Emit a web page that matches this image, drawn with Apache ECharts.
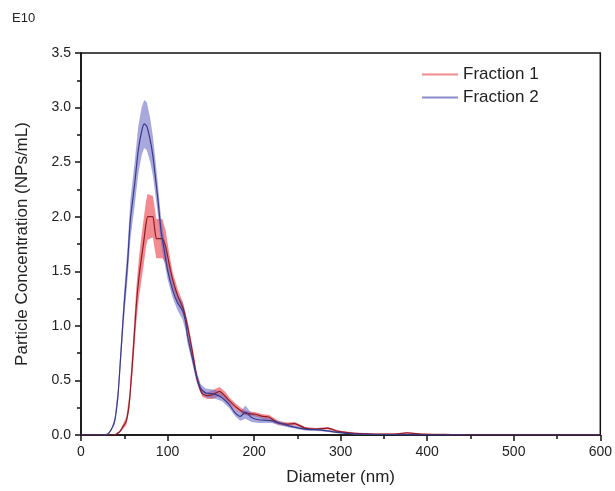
<!DOCTYPE html>
<html>
<head>
<meta charset="utf-8">
<script src="https://cdn.jsdelivr.net/npm/echarts@6/dist/echarts.min.js"></script>
<style>
  html, body { margin: 0; padding: 0; background: #fff; }
  #chart { width: 615px; height: 491px; }
</style>
</head>
<body>
<div id="chart"></div>
<script>
// Fraction 1 (red): diameter (nm), mean, half-width of band
const f1D = [0, 38, 44.7, 48, 52.4, 56, 60, 63.8, 67, 69.5, 72.6, 75, 77, 80, 83, 85, 87, 90, 94, 98, 102, 106, 112, 118, 123, 129, 134, 140, 146, 152, 160, 166, 172, 180, 190, 201, 210, 217, 228, 238, 247, 259, 272, 285, 297, 316, 340, 360, 377, 395, 420, 450, 600];
const f1Mean = [0, 0, 0.03, 0.07, 0.13, 0.31, 0.73, 1.18, 1.45, 1.6, 1.78, 1.93, 2.0, 2.0, 2.0, 1.9, 1.8, 1.8, 1.8, 1.72, 1.56, 1.42, 1.27, 1.16, 1.0, 0.75, 0.52, 0.38, 0.36, 0.37, 0.40, 0.36, 0.31, 0.25, 0.2, 0.19, 0.17, 0.165, 0.11, 0.10, 0.105, 0.063, 0.055, 0.063, 0.033, 0.015, 0.008, 0.008, 0.02, 0.008, 0.005, 0, 0];
const f1Err = [0, 0, 0.01, 0.02, 0.04, 0.07, 0.12, 0.16, 0.18, 0.2, 0.21, 0.21, 0.21, 0.2, 0.19, 0.19, 0.18, 0.18, 0.18, 0.15, 0.1, 0.07, 0.06, 0.05, 0.05, 0.05, 0.04, 0.03, 0.03, 0.04, 0.04, 0.04, 0.03, 0.03, 0.02, 0.02, 0.02, 0.02, 0.02, 0.015, 0.015, 0.01, 0.01, 0.01, 0.01, 0.008, 0.005, 0.005, 0.006, 0.004, 0.003, 0, 0];

// Fraction 2 (blue)
const f2D = [0, 25, 31, 35, 39, 42.8, 45.9, 49.7, 54, 57, 62, 66, 70, 73, 76, 80, 83, 86, 88.7, 92.5, 96.3, 100, 105.8, 111.6, 117.3, 121, 123, 128.8, 133, 138, 144, 150, 156, 163, 171, 178.5, 184, 190, 197, 205, 220, 240, 259, 278, 297, 316, 335, 400, 450, 600];
const f2Mean = [0, 0, 0.01, 0.05, 0.13, 0.37, 0.73, 1.18, 1.6, 1.97, 2.3, 2.6, 2.78, 2.85, 2.83, 2.7, 2.56, 2.36, 2.17, 1.87, 1.69, 1.51, 1.33, 1.21, 1.14, 1.03, 0.91, 0.70, 0.55, 0.43, 0.385, 0.38, 0.37, 0.34, 0.28, 0.2, 0.17, 0.21, 0.16, 0.14, 0.13, 0.084, 0.054, 0.045, 0.024, 0.01, 0.005, 0.002, 0, 0];
const f2Err = [0, 0, 0.005, 0.01, 0.03, 0.06, 0.09, 0.12, 0.15, 0.18, 0.2, 0.22, 0.22, 0.22, 0.22, 0.2, 0.18, 0.16, 0.14, 0.12, 0.1, 0.08, 0.07, 0.07, 0.08, 0.08, 0.07, 0.05, 0.05, 0.04, 0.04, 0.04, 0.04, 0.03, 0.03, 0.03, 0.04, 0.06, 0.04, 0.03, 0.02, 0.015, 0.012, 0.01, 0.008, 0.005, 0.004, 0.002, 0, 0];

const names = ['Fraction 1', 'Fraction 2'];

function pairs(d, m) {
  return d.map((x, i) => [x, m[i]]);
}

// shaded band (mean ± err) as one polygon, placed through the axes
function bandSeries(d, m, e, color) {
  return {
    type: 'custom', silent: true,
    data: d.map((x, i) => [x, Math.max(0, m[i] - e[i]), m[i] + e[i]]),
    encode: { x: 0, y: [1, 2] },
    renderItem: function (params, api) {
      if (params.dataIndex !== 0) return;
      const top = [], bot = [];
      for (let i = 0; i < d.length; i++) {
        top.push(api.coord([d[i], m[i] + e[i]]));
        bot.push(api.coord([d[i], Math.max(0, m[i] - e[i])]));
      }
      return {
        type: 'polygon',
        shape: { points: top.concat(bot.reverse()) },
        style: { fill: color }
      };
    }
  };
}

const chart = echarts.init(document.getElementById('chart'));
const option = {
  animation: false,
  graphic: [{
    type: 'text', left: 12, top: 12,
    style: { text: 'E10', fontSize: 13, fill: '#222', fontFamily: 'Liberation Sans' }
  }],
  legend: {
    data: [
      { name: names[0], itemStyle: { color: '#f08a8f' } },
      { name: names[1], itemStyle: { color: '#8a8acc' } }
    ],
    icon: 'rect',
    orient: 'vertical',
    left: 422, top: 66, padding: 0,
    itemWidth: 36, itemHeight: 2, itemGap: 6,
    textStyle: { fontSize: 17, color: '#222', fontFamily: 'Liberation Sans' }
  },
  grid: {
    left: 81, top: 53, right: 11, bottom: 50,
    show: true, borderColor: '#111', borderWidth: 1.5
  },
  xAxis: {
    type: 'value', min: 0, max: 600, interval: 100,
    name: 'Diameter (nm)', nameLocation: 'middle', nameGap: 34,
    nameTextStyle: { fontSize: 17, color: '#222', fontFamily: 'Liberation Sans' },
    axisLine: { lineStyle: { color: '#111', width: 1.5 } },
    axisTick: { inside: false, length: 6, lineStyle: { color: '#111', width: 1.5 } },
    minorTick: { show: true, splitNumber: 2, length: 4, lineStyle: { color: '#111', width: 1.5 } },
    axisLabel: { fontSize: 14, color: '#222', margin: 10, fontFamily: 'Liberation Sans' },
    splitLine: { show: false }
  },
  yAxis: {
    type: 'value', min: 0, max: 3.5, interval: 0.5,
    name: 'Particle Concentration (NPs/mL)', nameLocation: 'middle', nameGap: 50,
    nameTextStyle: { fontSize: 17, color: '#222', fontFamily: 'Liberation Sans' },
    axisLine: { lineStyle: { color: '#111', width: 1.5 } },
    axisTick: { inside: false, length: 6, lineStyle: { color: '#111', width: 1.5 } },
    minorTick: { show: true, splitNumber: 2, length: 4, lineStyle: { color: '#111', width: 1.5 } },
    axisLabel: { fontSize: 14, color: '#222', margin: 10, fontFamily: 'Liberation Sans',
      formatter: v => v.toFixed(1) },
    splitLine: { show: false }
  },
  series: [
    bandSeries(f1D, f1Mean, f1Err, 'rgba(235,60,70,0.6)'),
    bandSeries(f2D, f2Mean, f2Err, 'rgba(110,110,200,0.6)'),
    {
      name: names[0], type: 'line', data: pairs(f1D, f1Mean),
      symbol: 'none', smooth: 0.2, lineStyle: { color: '#8c1c28', width: 1.2 },
      itemStyle: { color: '#f08a8f' }
    },
    {
      name: names[1], type: 'line', data: pairs(f2D, f2Mean),
      symbol: 'none', smooth: 0.2, lineStyle: { color: '#3a3a88', width: 1.2 },
      itemStyle: { color: '#8a8acc' }
    }
  ]
};
chart.setOption(option);
</script>
</body>
</html>
